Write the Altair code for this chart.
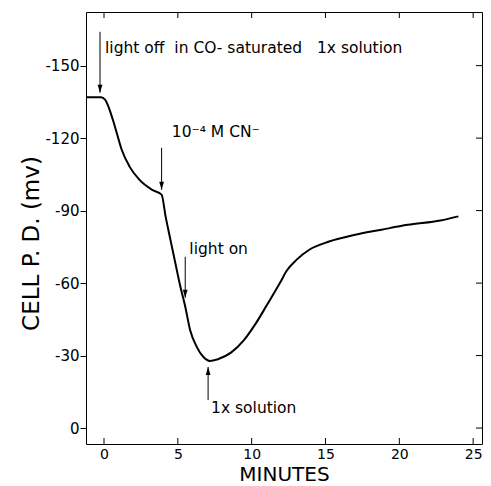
import altair as alt
import pandas as pd

# ---- data ----
minutes = [-1.2, -0.2, 0.07, 0.6, 0.86, 1.2, 1.73, 2.39, 3.26, 3.9, 4.17, 4.5,
           4.83, 5.17, 5.5, 5.83, 6.27, 6.72, 7.16, 7.71, 8.6, 9.49, 10.26,
           11.04, 11.92, 12.37, 13.03, 13.9, 15.25, 17.02, 18.8, 20.57, 22.79, 24.0]
cell_pd = [-136.9, -136.9, -135.9, -127.6, -122.2, -115.2, -108.2, -102.8, -98.6,
           -96.6, -87.6, -77.9, -68.3, -58.6, -50.3, -40.6, -33.7, -29.5, -27.8,
           -28.5, -31.2, -36.5, -43.1, -51.0, -60.1, -65.1, -69.6, -73.8, -77.2,
           -80.0, -82.1, -84.1, -85.9, -87.6]

x_ticks = [0, 5, 10, 15, 20, 25]
y_ticks = [0, -30, -60, -90, -120, -150]

arrow_x = [-0.27, 3.9, 5.5, 7.05]
arrow_from = [-164.0, -116.0, -70.9, -11.6]
arrow_tip = [-138.8, -98.6, -53.9, -25.3]
arrow_dir = ["down", "down", "down", "up"]

label_text = ["light off\u00a0 in CO-\u00a0saturated\u00a0\u00a0 1x solution",
              "10\u207b\u2074 M CN\u207b", "light on", "1x solution"]
label_x = [0.07, 4.59, 5.78, 7.25]
label_y = [-157.5, -122.7, -74.2, -8.3]

# ---- layout ----
W, H = 396, 432
X_DOM = [-1.22, 25.6]
Y_DOM = [-172.2, 6.6]
FONT = "DejaVu Sans"

curve = pd.DataFrame({"minutes": minutes, "mv": cell_pd})
arrows = pd.DataFrame({"minutes": arrow_x, "mv": arrow_from, "mv2": arrow_tip,
                       "dir": arrow_dir})
labels = pd.DataFrame({"minutes": label_x, "mv": label_y, "text": label_text})
xt = pd.DataFrame({"minutes": x_ticks})
yt = pd.DataFrame({"mv": y_ticks})

xscale = alt.Scale(domain=X_DOM, nice=False, zero=False)
yscale = alt.Scale(domain=Y_DOM, nice=False, zero=False, reverse=True)

xaxis = alt.Axis(values=x_ticks, title="MINUTES", ticks=False, domain=False,
                 grid=False, labelPadding=3, titlePadding=3,
                 labelFontSize=14, titleFontSize=20)
yaxis = alt.Axis(values=y_ticks, title="CELL P. D. (mv)", domain=False,
                 grid=False, tickSize=6, labelPadding=1,
                 labelFontSize=15, titleFontSize=23,
                 titleX=-55, titleY=231, titleBaseline="middle",
                 labelExpr="datum.value == 0 ? '0' : '-' + format(abs(datum.value), 'd')")


def X(field="minutes"):
    return alt.X(f"{field}:Q", scale=xscale, axis=xaxis)


def Y(field="mv"):
    return alt.Y(f"{field}:Q", scale=yscale, axis=yaxis)


line = alt.Chart(curve).mark_line(color="black", strokeWidth=2,
                                  interpolate="monotone").encode(x=X(), y=Y())

rules = alt.Chart(arrows).mark_rule(color="black", strokeWidth=1).encode(
    x=X(), y=Y(), y2="mv2:Q")

down_path = "M-0.6,-2L0.6,-2L0,0Z"
up_path = "M-0.6,2L0.6,2L0,0Z"
heads = alt.Chart(arrows).mark_point(filled=True, color="black", size=64, opacity=1).encode(
    x=X(), y=Y("mv2"),
    shape=alt.Shape("dir:N", scale=alt.Scale(domain=["down", "up"], range=[down_path, up_path]),
                    legend=None),
)

texts = alt.Chart(labels).mark_text(align="left", baseline="middle", fontSize=15.5,
                                    font=FONT, color="black").encode(
    x=X(), y=Y(), text="text:N")

bottom_ticks = alt.Chart(xt).mark_rule(color="black").encode(
    x=X(), y=alt.value(H - 6), y2=alt.value(H))
top_ticks = alt.Chart(xt).mark_rule(color="black").encode(
    x=X(), y=alt.value(0), y2=alt.value(6))
right_ticks = alt.Chart(yt).mark_rule(color="black").encode(
    y=Y(), x=alt.value(W - 6), x2=alt.value(W))

chart = alt.layer(line, rules, heads, texts, bottom_ticks, top_ticks, right_ticks).properties(
    width=W, height=H,
    autosize=alt.AutoSizeParams(type="none"),
    padding={"left": 78, "top": 4, "right": 1, "bottom": 44},
).configure_view(stroke="black", strokeWidth=1).configure_axis(
    labelFont=FONT, titleFont=FONT, labelColor="black", titleColor="black",
    tickColor="black", titleFontWeight="normal",
)

chart.save("out.html", embed_options={"renderer": "svg", "actions": False})
